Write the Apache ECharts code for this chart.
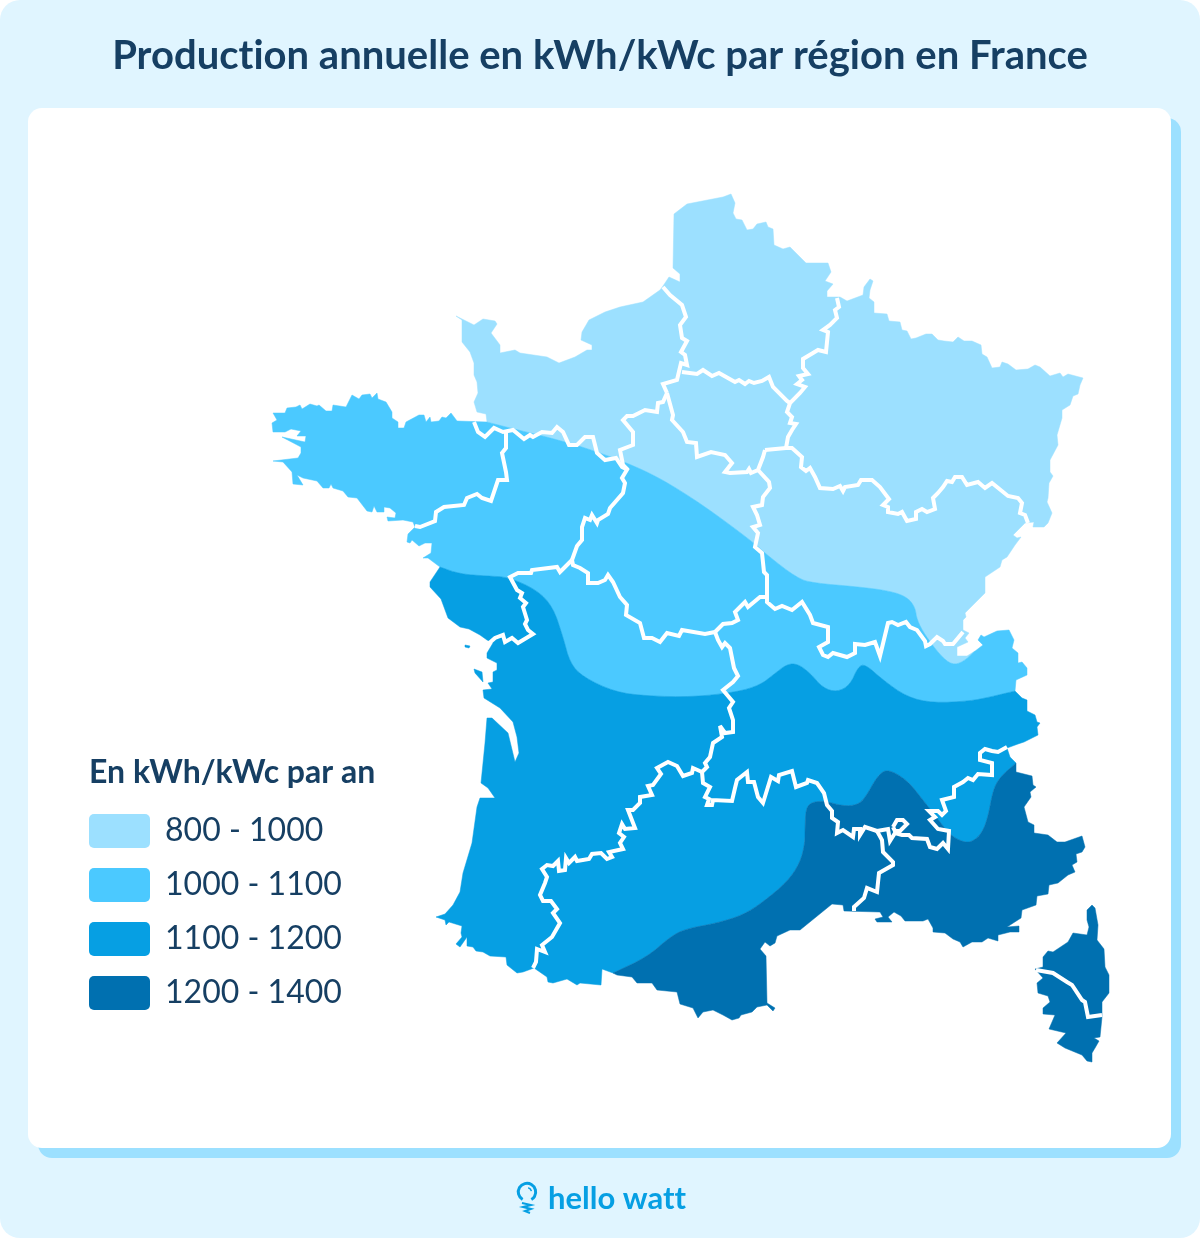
<!DOCTYPE html>
<html lang="fr"><head><meta charset="utf-8"><title>Production annuelle</title>
<style>html,body{margin:0;padding:0;background:#fff}#c{width:1200px;height:1238px}</style>
<script src="https://cdn.jsdelivr.net/npm/echarts@6/dist/echarts.min.js"></script></head><body><div id="c"></div>
<script>
const titleText='Production annuelle en kWh/kWc par région en France';
const legendTitle='En kWh/kWc par an';
const brandText='hello watt';
const bandNames=['800 - 1000','1000 - 1100','1100 - 1200','1200 - 1400'];
const bandMin=[800,1000,1100,1200];
const bandMax=[1000,1100,1200,1400];
const bandColors=['#9ce0ff','#4bc9ff','#069fe3','#0070b0'];
const bandValues=[900,1050,1150,1300];

const coastNorth=[[487,422],[486,414],[477,412],[474,402],[478,393],[477,382],[474,375],[474,363],[470,352],[462,342],[462,333],[462,320],[456,316],[474,325],[483,319],[495,321],[497,324],[491,333],[500,345],[500,353],[515,350],[520,353],[547,357],[559,363],[575,357],[587,350],[592,350],[592,345],[581,340],[582,332],[589,320],[605,312],[620,307],[643,302],[660,290],[663,286],[669,277],[680,282],[680,274],[673,268],[674,214],[687,204],[723,197],[731,194],[735,203],[733,213],[736,219],[742,220],[747,230],[753,229],[757,224],[766,222],[768,227],[773,229],[774,245],[783,249],[790,247],[800,257],[806,263],[828,263],[831,272],[825,281],[833,284],[827,291],[827,297],[840,297],[847,301],[863,295],[864,287],[870,279],[873,281],[870,290],[869,298],[874,302],[874,313],[887,314],[889,321],[900,322],[902,330],[907,331],[911,339],[916,338],[926,334],[932,334],[938,340],[944,341],[953,342],[958,337],[964,341],[972,341],[981,345],[982,354],[987,357],[992,368],[1000,367],[1002,362],[1008,364],[1016,370],[1028,369],[1035,365],[1040,367],[1050,376],[1060,373],[1063,377],[1068,374],[1083,378],[1080,385],[1078,394],[1073,396],[1070,405],[1062,410],[1062,418],[1057,435],[1058,445],[1050,460],[1050,472],[1053,476],[1049,483],[1048,498],[1047,502],[1052,513],[1048,523],[1044,527],[1033,527],[1034,522],[1025,523],[1013,535],[1017,538],[1021,537],[1015,545],[1007,557],[1002,560],[1000,567],[985,577],[985,593],[965,613],[966,617],[963,620],[963,630],[969,633],[965,638],[968,642],[957,647],[957,656],[967,656],[975,651]];
const coastAlps=[[975,651],[983,645],[978,640],[981,635],[984,637],[997,631],[1009,630],[1014,640],[1012,648],[1018,653],[1018,663],[1022,662],[1027,668],[1027,675],[1016,680],[1015,691]];
const coastEast=[[1015,691],[1022,698],[1027,700],[1027,711],[1035,715],[1037,722],[1040,723],[1037,727],[1038,735],[1024,742],[1018,744],[1007,748],[1010,757],[1016,763]];
const coastSouth=[[1016,763],[1016,772],[1032,776],[1033,785],[1036,787],[1030,792],[1031,797],[1024,807],[1028,822],[1034,825],[1034,833],[1048,835],[1057,842],[1065,842],[1082,836],[1085,847],[1082,852],[1076,854],[1077,862],[1072,865],[1075,872],[1068,875],[1058,883],[1049,885],[1048,894],[1037,896],[1036,905],[1022,910],[1021,918],[1007,927],[1019,926],[1019,932],[1010,932],[998,935],[998,941],[988,938],[982,942],[972,942],[963,947],[960,942],[953,939],[945,933],[933,932],[933,928],[928,919],[923,921],[905,921],[901,916],[894,912],[888,917],[892,922],[877,922],[875,919],[883,917],[880,912],[844,911],[843,905],[832,904],[800,930],[790,930],[777,936],[775,943],[770,946],[765,942],[760,949],[766,956],[767,1003],[775,1008],[773,1011],[767,1005],[757,1007],[752,1012],[741,1015],[739,1018],[732,1020],[723,1015],[713,1010],[703,1012],[698,1018],[693,1008],[680,1004],[677,992],[657,990],[652,983],[637,983],[632,977],[617,975],[613,973]];
const coastWest=[[613,973],[602,969],[601,985],[580,983],[577,985],[567,979],[553,983],[548,982],[547,977],[534,968],[523,972],[517,973],[507,965],[506,957],[490,956],[483,952],[476,951],[473,947],[467,946],[467,937],[460,947],[456,944],[462,937],[461,933],[462,926],[449,922],[446,925],[445,920],[436,917],[445,914],[453,905],[460,892],[463,873],[472,843],[477,807],[480,798],[495,798],[488,788],[481,783],[485,743],[487,718],[492,718],[508,733],[515,762],[519,753],[517,737],[513,722],[500,708],[484,698],[483,690],[492,689],[488,683],[493,682],[493,672],[497,670],[497,663],[487,658],[487,653],[493,643],[487,640],[480,635],[469,629],[460,627],[448,618],[441,599],[430,587],[430,582],[440,567]];
const coastBrittany=[[440,567],[428,558],[423,558],[431,553],[432,543],[425,543],[419,546],[412,540],[410,543],[407,542],[408,534],[415,527],[413,522],[403,520],[388,521],[387,517],[395,518],[396,513],[390,508],[384,507],[384,512],[377,512],[374,506],[372,512],[367,511],[357,498],[348,497],[343,491],[333,488],[331,484],[329,488],[323,488],[317,481],[303,478],[297,475],[303,485],[293,484],[292,472],[283,462],[273,461],[298,458],[301,453],[301,447],[282,437],[305,442],[306,436],[297,436],[301,431],[291,429],[285,432],[273,432],[272,423],[277,420],[273,413],[285,413],[287,408],[296,407],[300,405],[302,409],[310,404],[317,406],[319,405],[326,411],[332,411],[333,405],[346,407],[352,395],[359,399],[362,395],[370,394],[372,398],[377,393],[378,399],[386,402],[392,412],[392,418],[398,422],[398,428],[404,428],[406,422],[419,415],[424,415],[426,422],[430,417],[431,422],[439,421],[442,417],[446,418],[451,413],[457,421],[487,422]];
const islandOleron=[[474,669],[482,672],[483,682],[475,673],[474,669]];
const islandRe=[[465,645],[470,646],[469,648],[465,647],[465,645]];
const islandCorsica=[[1087,910],[1092,905],[1095,908],[1098,925],[1097,940],[1104,949],[1105,967],[1109,975],[1109,993],[1102,1002],[1102,1017],[1100,1037],[1094,1038],[1099,1041],[1095,1048],[1092,1053],[1092,1062],[1087,1061],[1082,1055],[1065,1048],[1057,1043],[1066,1033],[1049,1029],[1052,1022],[1055,1015],[1043,1014],[1043,1008],[1050,1002],[1048,996],[1038,993],[1037,983],[1043,978],[1035,969],[1043,967],[1043,957],[1048,951],[1053,952],[1068,942],[1073,933],[1087,935],[1089,927],[1087,920],[1087,910]];

const boundAB=[[487,422],[510,428],[547,437],[583,447],[625,462],[660,478],[703,505],[753,542],[767,555],[797,578],[813,583],[860,587],[890,591],[907,597],[915,607],[917,620],[925,635],[940,655],[952,665],[963,662],[975,651]];
const boundBC=[[440,567],[460,574],[487,576],[508,577],[537,590],[553,607],[563,637],[570,663],[583,677],[615,692],[647,696],[693,697],[737,692],[760,685],[773,675],[787,664],[798,664],[810,673],[823,688],[837,692],[850,685],[858,667],[865,664],[883,680],[907,697],[933,703],[970,701],[990,697],[1015,691]];
const boundCD=[[1016,763],[1000,777],[993,790],[988,817],[982,833],[972,842],[963,842],[950,835],[937,818],[923,800],[907,780],[888,769],[878,775],[865,798],[857,805],[843,806],[825,801],[812,802],[806,808],[805,827],[805,843],[800,863],[787,882],[763,902],[743,915],[717,923],[685,929],[670,937],[647,957],[613,973]];

const regionBorders=[
[[663,287],[670,295],[682,305],[686,317],[680,325],[682,338],[687,341],[681,352],[685,355],[687,365],[681,363],[677,380],[663,384],[667,393]],
[[682,372],[697,374],[703,370],[712,376],[719,373],[735,382],[739,380],[745,384],[749,381],[754,383],[762,381],[769,377],[773,387],[787,401],[790,403]],
[[837,298],[839,307],[835,310],[837,318],[830,325],[823,330],[828,332],[826,352],[818,350],[813,353],[803,359],[803,368],[808,374],[799,376],[802,380],[797,384],[805,387],[800,393],[790,403],[787,412],[792,417],[790,423],[796,424],[792,430],[788,437],[786,448]],
[[765,450],[786,448],[792,448],[802,457],[801,467],[806,471],[810,468],[815,477],[820,488],[833,489],[840,486],[843,491],[845,487],[858,485],[861,480],[872,480],[880,487],[889,499],[883,505],[888,507],[888,512],[898,514],[902,512],[907,521],[916,519],[916,512],[922,509],[927,512],[935,509],[933,498],[938,493],[943,487],[947,481],[952,482],[955,477],[962,477],[967,485],[978,482],[985,488],[992,483],[1008,496],[1018,498],[1022,503],[1020,513],[1025,515],[1028,523]],
[[667,393],[673,415],[672,420],[683,432],[687,442],[696,443],[697,457],[711,452],[725,455],[732,463],[725,472],[730,473],[747,472],[749,469],[751,473],[758,470],[763,457],[765,450]],
[[667,393],[663,402],[658,403],[657,412],[645,410],[633,416],[627,416],[623,420],[633,432],[633,445],[620,450],[623,465],[628,470]],
[[474,422],[478,432],[485,437],[494,428],[503,432],[513,430],[524,439],[530,435],[533,437],[542,432],[552,433],[557,427],[563,432],[569,445],[577,445],[585,437],[593,437],[597,453],[605,460],[616,458],[622,467],[628,470]],
[[506,432],[506,448],[502,453],[506,472],[507,480],[498,480],[491,501],[482,498],[477,494],[467,498],[464,505],[444,507],[436,512],[435,521],[420,527],[415,526]],
[[628,468],[622,478],[625,483],[623,493],[610,508],[608,514],[598,520],[597,523],[592,515],[590,520],[585,518],[582,527],[582,540],[577,546],[572,560]],
[[572,560],[560,572],[557,567],[532,570],[531,573],[518,573],[510,577],[517,590],[522,593],[520,598],[526,603],[523,607],[527,620],[525,624],[528,630],[533,634],[518,643],[512,638],[505,642],[503,635],[495,638],[487,645]],
[[572,560],[573,565],[580,568],[588,573],[588,583],[598,583],[605,580],[608,575],[613,582],[620,597],[627,605],[626,615],[640,623],[644,638],[652,638],[660,642],[667,633],[679,636],[682,630],[705,634],[715,632]],
[[715,632],[723,624],[732,623],[738,620],[735,612],[745,602],[748,607],[760,597],[767,597],[767,575],[764,572],[762,553],[755,547],[758,533],[753,527],[760,525],[757,515],[753,507],[762,505],[763,497],[770,488],[769,482],[758,470]],
[[767,597],[767,602],[775,609],[782,606],[792,610],[802,602],[810,615],[813,623],[828,627],[828,642],[819,647],[823,655],[828,657],[833,653],[847,657],[855,653],[855,644],[865,645],[875,642],[880,656],[888,623],[892,622],[898,625],[906,622],[910,627],[917,630],[925,641],[926,646],[930,644],[937,637],[943,641],[945,644],[953,644],[963,632]],
[[715,632],[718,640],[722,647],[725,643],[730,648],[734,668],[738,676],[733,682],[723,690],[733,702],[729,708],[733,720],[733,732],[725,733],[720,726],[722,737],[713,743],[710,757],[705,763],[707,767],[702,772]],
[[702,772],[693,768],[692,773],[683,776],[677,766],[668,762],[657,768],[661,774],[653,785],[648,786],[652,795],[640,797],[640,803],[633,810],[628,810],[635,828],[625,829],[622,824],[619,833],[624,837],[620,843],[623,849],[609,852],[612,857],[607,859],[601,853],[592,854],[589,859],[577,861],[575,857],[569,863],[566,858],[565,870],[559,871],[558,861],[553,866],[547,865],[542,869],[547,877],[545,883],[540,895],[543,901],[551,901],[557,909],[553,913],[560,923],[552,937],[542,945],[545,952],[537,949],[536,962],[533,968]],
[[702,772],[703,783],[710,787],[705,797],[709,799],[707,805],[712,805],[713,800],[732,801],[735,788],[737,780],[747,772],[748,782],[754,782],[758,797],[763,803],[771,777],[778,781],[779,775],[792,771],[796,787],[807,783],[808,780],[817,783],[824,793],[827,805],[832,811],[832,818],[838,822],[837,833],[843,830],[853,837],[854,829],[860,829],[860,835],[865,827],[877,831]],
[[877,831],[882,840],[883,852],[893,862],[893,865],[879,873],[877,892],[867,888],[864,898],[854,907],[854,911]],
[[893,827],[897,820],[903,820],[907,824],[900,831],[895,831],[893,827]],
[[877,831],[888,829],[890,841],[895,833],[902,835],[909,835],[912,838],[927,839],[930,847],[937,849],[943,843],[948,849],[949,831],[938,829],[930,820],[935,817],[929,811],[938,811],[942,815],[946,811],[942,800],[954,797],[954,787],[963,782],[968,778],[973,780],[978,774],[992,775],[992,763],[980,760],[980,753],[985,749],[992,751],[998,752],[1007,747]],
[[1036,970],[1053,973],[1067,982],[1072,985],[1082,1000],[1085,1002],[1088,1017],[1102,1015]]
];

// A tiny letter spacing switches off the font's "ti" ligature, which the reference does not use.
const rawGetContext=HTMLCanvasElement.prototype.getContext;
HTMLCanvasElement.prototype.getContext=function(){const c=rawGetContext.apply(this,arguments);if(c&&'letterSpacing' in c)c.letterSpacing='0.01px';return c;};

function smooth(p,n){let a=p;for(let k=0;k<n;k++){const b=[a[0]];for(let i=0;i<a.length-1;i++){const u=a[i],v=a[i+1];b.push([u[0]*.75+v[0]*.25,u[1]*.75+v[1]*.25],[u[0]*.25+v[0]*.75,u[1]*.25+v[1]*.75]);}b.push(a[a.length-1]);a=b;}return a;}
const ab=smooth(boundAB,2),bc=smooth(boundBC,2),cd=smooth(boundCD,2);
const rev=a=>a.slice().reverse();
const close=a=>a.concat([a[0]]);
const zonePolys=[
 [close(coastNorth.concat(rev(ab)))],
 [close(coastBrittany.concat(ab,coastAlps,rev(bc)))],
 [close(coastWest.concat(bc,coastEast,cd)),islandOleron,islandRe],
 [close(coastSouth.concat(rev(cd))),islandCorsica]
];
const geoJson={type:'FeatureCollection',features:zonePolys.map((polys,i)=>({type:'Feature',properties:{name:bandNames[i]},geometry:{type:'MultiPolygon',coordinates:polys.map(r=>[r])}}))};
echarts.registerMap('franceBands',geoJson);
let xs=[],ys=[];zonePolys.flat().flat().forEach(p=>{xs.push(p[0]);ys.push(p[1]);});
const minX=Math.min(...xs),maxX=Math.max(...xs),minY=Math.min(...ys),maxY=Math.max(...ys);
const INK='#163f63',BRAND='#069fe3';
const chart=echarts.init(document.getElementById('c'),null,{renderer:'canvas'});
chart.setOption({
 animation:false,backgroundColor:'#fff',
 graphic:{elements:[
  {type:'rect',z:-5,silent:true,shape:{x:0,y:0,width:1200,height:1238,r:20},style:{fill:'#e0f5ff'}},
  {type:'rect',z:-4,silent:true,shape:{x:38,y:118,width:1143,height:1040,r:14},style:{fill:'#9ce0ff'}},
  {type:'rect',z:-3,silent:true,shape:{x:28,y:108,width:1143,height:1040,r:14},style:{fill:'#fff'}},
  {type:'text',z:10,silent:true,x:600,y:56,style:{text:titleText,fill:INK,font:'bold 40px Lato',align:'center',verticalAlign:'middle'}},
  {type:'text',z:10,silent:true,x:89,y:773,style:{text:legendTitle,fill:INK,font:'bold 32px Lato',align:'left',verticalAlign:'middle'}},
  {type:'text',z:10,silent:true,x:548,y:1199,style:{text:brandText,fill:BRAND,font:'bold 31px Lato',align:'left',verticalAlign:'middle'}},
  {type:'arc',z:10,silent:true,shape:{cx:527,cy:1192,r:8.7,startAngle:2.1,endAngle:1.05,clockwise:true},style:{stroke:BRAND,fill:'none',lineWidth:3}},
  {type:'arc',z:10,silent:true,shape:{cx:527,cy:1192,r:4.5,startAngle:-1.3,endAngle:-0.2,clockwise:true},style:{stroke:BRAND,fill:'none',lineWidth:1.5}},
  {type:'polyline',z:10,silent:true,shape:{points:[[522,1203],[531,1205],[523,1207],[531,1209],[525,1211],[530,1213]]},style:{stroke:BRAND,fill:'none',lineWidth:2}}
 ]},
 visualMap:{type:'piecewise',seriesIndex:0,left:89,top:814,orient:'vertical',inverse:true,align:'left',itemWidth:61,itemHeight:34,itemGap:20,itemSymbol:'path://M5 0H56A5 5 0 0 1 61 5V29A5 5 0 0 1 56 34H5A5 5 0 0 1 0 29V5A5 5 0 0 1 5 0Z',textGap:15,selectedMode:false,hoverLink:false,padding:0,
  textStyle:{color:INK,fontFamily:'Lato',fontSize:32},
  pieces:bandNames.map((n,i)=>({min:bandMin[i],max:bandMax[i],label:n,color:bandColors[i]}))},
 geo:{map:'franceBands',roam:false,silent:true,projection:{project:p=>p,unproject:p=>p},left:minX,top:minY,width:maxX-minX,height:maxY-minY,
  itemStyle:{borderWidth:0,areaColor:'transparent'},label:{show:false},emphasis:{disabled:true},select:{disabled:true},
  regions:bandNames.map((n,i)=>({name:n,itemStyle:{borderColor:bandColors[i],borderWidth:0.5}}))},
 series:[
  {type:'map',geoIndex:0,silent:true,data:bandNames.map((n,i)=>({name:n,value:bandValues[i]}))},
  {type:'lines',coordinateSystem:'geo',polyline:true,silent:true,z:5,lineStyle:{color:'#fff',width:4,opacity:1,curveness:0,join:'miter',miterLimit:4},data:regionBorders.map(c=>({coords:c}))}
 ]
});
</script></body></html>
